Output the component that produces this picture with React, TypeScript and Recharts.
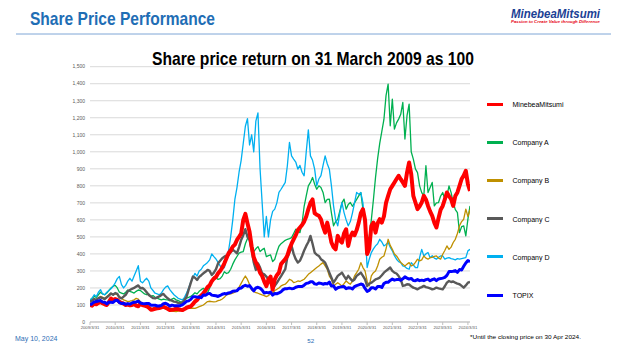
import React from 'react';
import { LineChart, Line, XAxis, YAxis, CartesianGrid, Legend } from 'recharts';

// ---------- labels ----------
const pageTitle = 'Share Price Performance';
const chartTitle = 'Share price return on 31 March 2009 as 100';
const logoText = 'MinebeaMitsumi';
const logoTagline = 'Passion to Create Value through Difference';
const footerDate = 'May 10, 2024';
const pageNumber = '52';
const footNote = '*Until the closing price on 30 Apr 2024.';

const xTickLabels = [
  '2009/3/31', '2010/3/31', '2011/3/31', '2012/3/31', '2013/3/31', '2014/3/31', '2015/3/31', '2016/3/31',
  '2017/3/31', '2018/3/31', '2019/3/31', '2020/3/31', '2021/3/31', '2022/3/31', '2023/3/31', '2024/3/31',
];
const yTicks = [0, 100, 200, 300, 400, 500, 600, 700, 800, 900, 1000, 1100, 1200, 1300, 1400, 1500];

// ---------- monthly values (Mar 2009 ... Apr 2024), one row per year: Mar..Feb ----------
const minebeaMitsumi = [
  100, 96, 108, 104, 112, 118, 110, 104, 100, 118, 138, 128,
  135, 130, 118, 112, 108, 100, 102, 98, 100, 106, 96, 92,
  108, 100, 96, 92, 85, 72, 74, 78, 80, 82, 86, 90,
  84, 78, 70, 72, 74, 78, 76, 72, 70, 76, 84, 88,
  92, 105, 120, 130, 145, 155, 169, 185, 205, 215, 240, 255,
  265, 286, 300, 320, 345, 375, 404, 420, 443, 455, 482, 500,
  520, 600, 635, 580, 530, 443, 380, 350, 325, 290, 270, 237,
  210, 250, 267, 190, 250, 275, 290, 340, 355, 369, 390, 430,
  460, 486, 510, 540, 555, 570, 590, 620, 663, 700, 720, 640,
  630, 624, 604, 560, 525, 584, 530, 467, 440, 427, 506, 480,
  467, 520, 545, 447, 500, 525, 510, 540, 584, 640, 663, 600,
  400, 430, 565, 584, 525, 580, 604, 584, 620, 700, 741, 780,
  800, 820, 840, 859, 839, 820, 800, 878, 937, 869, 741, 702,
  663, 680, 702, 741, 720, 682, 650, 624, 584, 555, 610, 660,
  682, 720, 761, 740, 722, 682, 740, 761, 800, 840, 860, 888,
  810, 770,
];

const companyA = [
  125, 140, 150, 145, 160, 175, 165, 160, 170, 185, 200, 210,
  215, 200, 175, 170, 165, 175, 188, 180, 175, 170, 180, 188,
  185, 175, 165, 160, 165, 150, 155, 145, 140, 135, 130, 135,
  132, 130, 125, 135, 140, 130, 125, 120, 118, 128, 140, 145,
  150, 160, 172, 165, 180, 190, 198, 185, 170, 200, 240, 265,
  260, 250, 255, 270, 295, 285, 290, 310, 340, 365, 385, 405,
  410, 414, 460, 490, 512, 460, 414, 430, 443, 414, 425, 433,
  384, 390, 394, 355, 369, 410, 445, 460, 470, 480, 486, 490,
  496, 520, 545, 535, 525, 580, 680, 741, 800, 820, 849, 810,
  780, 800, 790, 761, 702, 720, 722, 640, 565, 590, 604, 653,
  700, 722, 663, 690, 702, 680, 700, 720, 741, 761, 663, 560,
  490, 500, 600, 720, 850, 960, 1050, 1120, 1190, 1330, 1398, 1153,
  1310, 1133, 1170, 1192, 1220, 1290, 1075, 1212, 1280, 1000, 957, 900,
  878, 800, 760, 741, 918, 761, 790, 820, 682, 700, 702, 740,
  761, 722, 740, 800, 760, 702, 660, 643, 525, 560, 565, 506,
  604, 682,
];

const companyB = [
  115, 125, 135, 130, 140, 150, 145, 140, 150, 160, 168, 160,
  165, 160, 149, 140, 130, 125, 120, 122, 125, 130, 139, 135,
  118, 110, 105, 100, 90, 80, 82, 86, 90, 85, 80, 82,
  78, 71, 66, 64, 62, 61, 64, 68, 71, 75, 78, 80,
  80, 82, 80, 85, 90, 95, 100, 110, 120, 122, 120, 118,
  120, 125, 129, 135, 145, 159, 162, 165, 169, 175, 188, 205,
  227, 250, 270, 250, 220, 188, 180, 172, 169, 164, 159, 155,
  149, 155, 165, 169, 185, 192, 200, 212, 218, 222, 235, 251,
  245, 231, 235, 241, 238, 245, 251, 265, 280, 290, 300, 310,
  320, 329, 340, 349, 330, 310, 270, 251, 212, 222, 231, 222,
  212, 225, 241, 230, 222, 240, 271, 290, 310, 349, 320, 300,
  240, 212, 271, 290, 300, 329, 369, 380, 388, 430, 486, 450,
  427, 400, 388, 369, 350, 339, 329, 340, 349, 329, 335, 350,
  369, 359, 365, 388, 375, 369, 378, 380, 385, 388, 375, 369,
  398, 420, 447, 427, 440, 467, 486, 520, 565, 590, 604, 663,
  620, 660,
];

const companyC = [
  120, 125, 135, 130, 140, 145, 140, 135, 145, 155, 168, 160,
  170, 165, 145, 139, 149, 160, 180, 188, 195, 200, 208, 215,
  198, 200, 190, 175, 159, 150, 140, 139, 145, 150, 159, 165,
  150, 139, 130, 125, 120, 118, 112, 110, 115, 130, 149, 190,
  230, 267, 260, 247, 265, 275, 286, 295, 306, 300, 276, 290,
  310, 345, 360, 375, 384, 390, 394, 410, 424, 415, 404, 440,
  482, 510, 545, 500, 482, 424, 350, 306, 345, 320, 286, 280,
  267, 250, 227, 215, 212, 230, 251, 270, 290, 310, 380, 408,
  447, 400, 369, 349, 360, 388, 420, 447, 470, 506, 460, 408,
  395, 388, 369, 360, 349, 320, 290, 260, 231, 250, 271, 280,
  290, 270, 251, 271, 255, 241, 250, 271, 280, 290, 271, 250,
  212, 225, 231, 240, 251, 255, 261, 275, 290, 300, 310, 320,
  300, 290, 285, 270, 251, 212, 215, 222, 220, 210, 202, 198,
  192, 200, 205, 212, 205, 202, 198, 192, 195, 202, 198, 195,
  192, 210, 231, 241, 235, 238, 231, 225, 222, 212, 202, 215,
  231, 235,
];

const companyD = [
  130, 140, 160, 150, 175, 190, 165, 160, 175, 185, 195, 210,
  230, 255, 267, 220, 200, 215, 240, 257, 240, 270, 300, 331,
  240, 230, 245, 257, 240, 200, 185, 169, 165, 160, 170, 190,
  205, 212, 190, 175, 160, 150, 139, 135, 130, 145, 170, 200,
  235, 260, 286, 270, 300, 310, 330, 340, 350, 365, 400, 384,
  370, 350, 330, 310, 320, 370, 420, 500, 600, 720, 790, 880,
  950, 1050, 1150, 1195, 1040, 1100, 1000, 1180, 1228, 900, 700, 500,
  620, 500, 600, 650, 663, 700, 761, 780, 800, 820, 918, 1055,
  976, 957, 940, 898, 920, 880, 859, 1000, 1129, 976, 950, 898,
  800, 840, 860, 920, 976, 930, 898, 800, 682, 600, 565, 640,
  702, 643, 600, 565, 590, 640, 700, 761, 751, 760, 700, 550,
  320, 369, 408, 430, 447, 460, 486, 470, 447, 455, 467, 440,
  418, 390, 369, 355, 349, 329, 325, 315, 310, 349, 335, 320,
  320, 380, 427, 388, 400, 408, 378, 390, 375, 369, 380, 388,
  388, 369, 375, 378, 372, 369, 365, 372, 369, 372, 375, 378,
  418, 427,
];

const topix = [
  100, 108, 117, 120, 123, 126, 117, 116, 106, 117, 116, 115,
  126, 128, 114, 109, 110, 104, 108, 105, 112, 116, 118, 123,
  112, 109, 107, 109, 109, 99, 99, 99, 94, 94, 98, 108,
  110, 104, 93, 99, 96, 95, 95, 96, 101, 111, 121, 124,
  133, 148, 149, 146, 147, 143, 159, 157, 165, 168, 158, 156,
  154, 150, 156, 163, 167, 165, 171, 173, 181, 182, 183, 197,
  200, 210, 216, 210, 214, 197, 183, 200, 204, 199, 187, 170,
  174, 171, 176, 158, 167, 166, 171, 178, 190, 196, 196, 199,
  196, 197, 204, 208, 208, 208, 216, 227, 229, 236, 237, 224,
  222, 229, 227, 222, 226, 224, 235, 211, 213, 192, 201, 205,
  207, 209, 196, 201, 200, 194, 208, 214, 218, 223, 219, 197,
  180, 186, 201, 201, 194, 209, 209, 203, 226, 233, 233, 244,
  252, 246, 249, 250, 245, 254, 265, 258, 252, 256, 244, 243,
  249, 243, 246, 243, 249, 252, 242, 249, 254, 243, 253, 255,
  258, 262, 274, 296, 296, 298, 302, 292, 308, 306, 327, 347,
  361, 355,
];

// ---------- series config ----------
const series = [
  { key: 'minebea', name: 'MinebeaMitsumi', values: minebeaMitsumi, color: '#FF0000', width: 4 },
  { key: 'a', name: 'Company A', values: companyA, color: '#00B050', width: 1.3 },
  { key: 'b', name: 'Company B', values: companyB, color: '#BF9000', width: 1.3 },
  { key: 'c', name: 'Company C', values: companyC, color: '#595959', width: 2.4 },
  { key: 'd', name: 'Company D', values: companyD, color: '#00B0F0', width: 1.3 },
  { key: 'topix', name: 'TOPIX', values: topix, color: '#0000FF', width: 3 },
];
const drawOrder = ['a', 'd', 'b', 'c', 'minebea', 'topix'];

// observation dates: month-ends from 31 Mar 2009, as decimal years
const startT = 2009.25;
const data = minebeaMitsumi.map((_, i) => {
  const row: Record<string, number> = { t: startT + i / 12 };
  series.forEach((s) => {
    row[s.key] = s.values[i];
  });
  return row;
});

const xTicks = xTickLabels.map((l) => parseInt(l, 10) + 0.25);
const xFormat = (v: number) => {
  const y = Math.round(v - 0.25);
  const found = xTickLabels.find((l) => parseInt(l, 10) === y);
  return found ?? '';
};
const yFormat = (v: number) => v.toLocaleString('en-US');

const FONT = '"Liberation Sans", Arial, sans-serif';

const LegendBox = () => (
  <div style={{ position: 'absolute', left: 487, top: 94, width: 130 }}>
    {series.map((s, i) => (
      <div
        key={s.key}
        style={{ position: 'absolute', left: 0, top: i * 38.2, height: 20, width: 130 }}
      >
        <div
          style={{
            position: 'absolute',
            left: 0,
            top: 8.5,
            width: 16,
            height: s.key === 'minebea' ? 3.6 : 3,
            background: s.color,
          }}
        />
        <span
          style={{
            position: 'absolute',
            left: 25.5,
            top: 6,
            fontFamily: FONT,
            fontSize: 7,
            lineHeight: '9px',
            color: '#000',
            whiteSpace: 'nowrap',
          }}
        >
          {s.name}
        </span>
      </div>
    ))}
  </div>
);

export default function App() {
  return (
    <div
      style={{
        position: 'absolute',
        left: 0,
        top: 0,
        width: 622,
        height: 350,
        background: '#fff',
        overflow: 'hidden',
        fontFamily: FONT,
      }}
    >
      <LineChart
        width={622}
        height={350}
        data={data}
        margin={{ top: 66.7, right: 152, bottom: 8, left: 60 }}
      >
        <CartesianGrid vertical={false} stroke="#D9D9D9" strokeWidth={1} />
        <XAxis
          dataKey="t"
          type="number"
          domain={[2009.25, 2024.333]}
          ticks={xTicks}
          tickFormatter={xFormat}
          interval={0}
          height={20}
          tickSize={3}
          tickMargin={1}
          stroke="#BFBFBF"
          tick={{ fontSize: 4.2, fill: '#595959', fontFamily: FONT }}
          allowDataOverflow
        />
        <YAxis
          type="number"
          domain={[0, 1500]}
          ticks={yTicks}
          tickFormatter={yFormat}
          interval={0}
          width={30}
          axisLine={false}
          tickLine={false}
          tickSize={0}
          tickMargin={5}
          tick={{ fontSize: 5, fill: '#595959', fontFamily: FONT }}
        />
        {drawOrder.map((k) => {
          const s = series.find((x) => x.key === k)!;
          return (
            <Line
              key={s.key}
              type="linear"
              dataKey={s.key}
              name={s.name}
              stroke={s.color}
              strokeWidth={s.width}
              dot={false}
              activeDot={false}
              isAnimationActive={false}
              strokeLinejoin="round"
            />
          );
        })}
        <Legend content={() => null} />
      </LineChart>

      <LegendBox />

      <svg
        width={622}
        height={350}
        style={{ position: 'absolute', left: 0, top: 0, pointerEvents: 'none' }}
      >
        <text
          x={30}
          y={24.8}
          fontFamily={FONT}
          fontWeight="bold"
          fontSize={18.5}
          fill="#1F6EB5"
          textLength={185}
          lengthAdjust="spacingAndGlyphs"
        >
          {pageTitle}
        </text>
        <line x1={16} y1={34} x2={611} y2={34} stroke="#7FA6D6" strokeWidth={1} />
        <text
          x={511}
          y={18}
          fontFamily={FONT}
          fontWeight="bold"
          fontStyle="italic"
          fontSize={12}
          fill="#1B3F94"
          textLength={89}
          lengthAdjust="spacingAndGlyphs"
        >
          {logoText}
        </text>
        <text
          x={511}
          y={23}
          fontFamily={FONT}
          fontWeight="bold"
          fontStyle="italic"
          fontSize={3.6}
          fill="#E60012"
          textLength={89}
          lengthAdjust="spacingAndGlyphs"
        >
          {logoTagline}
        </text>
        <text
          x={152}
          y={64.6}
          fontFamily={FONT}
          fontWeight="bold"
          fontSize={19}
          fill="#000"
          textLength={322}
          lengthAdjust="spacingAndGlyphs"
        >
          {chartTitle}
        </text>
        <text x={15} y={341} fontFamily={FONT} fontSize={7} fill="#2F6DB5">
          {footerDate}
        </text>
        <text x={307.3} y={342.7} fontFamily={FONT} fontSize={6.2} fill="#1F6EB5">
          {pageNumber}
        </text>
        <text
          x={470}
          y={339}
          fontFamily={FONT}
          fontSize={6}
          fill="#000"
          textLength={111}
          lengthAdjust="spacingAndGlyphs"
        >
          {footNote}
        </text>
      </svg>
    </div>
  );
}
